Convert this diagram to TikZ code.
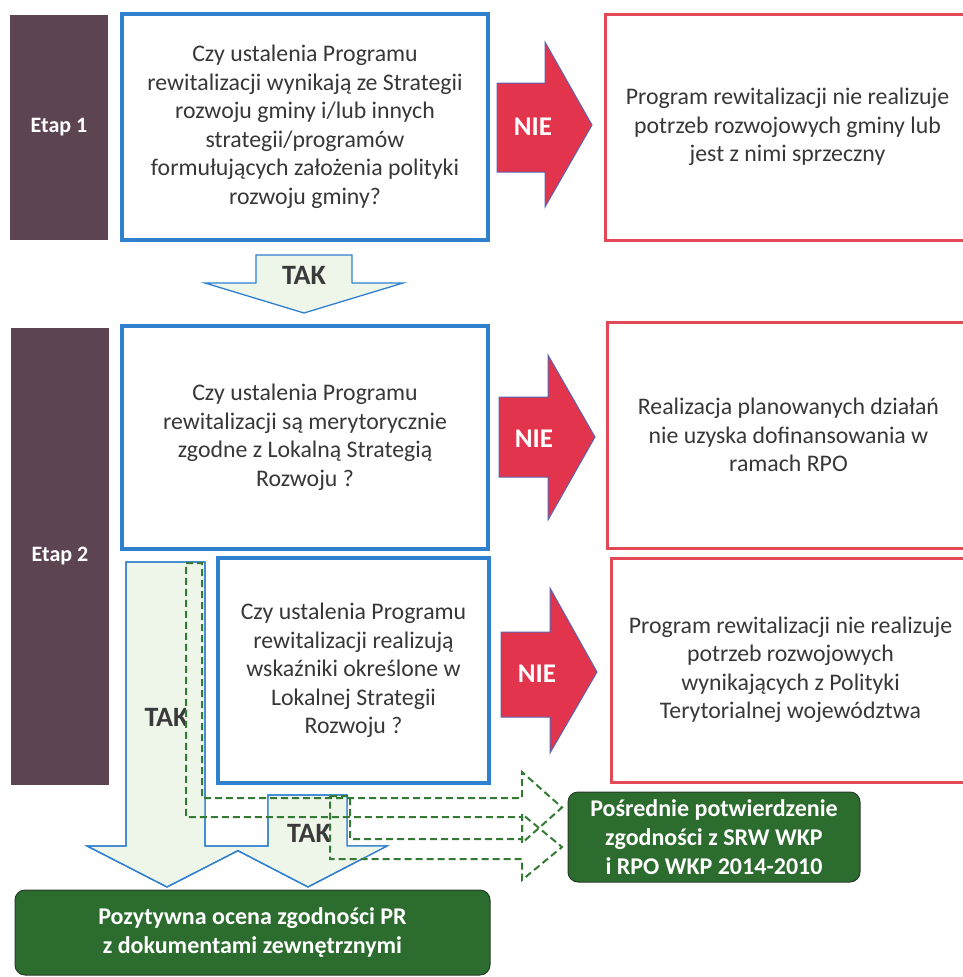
\documentclass[tikz,border=0pt]{standalone}
\usepackage{fontspec}
\setmainfont{Carlito}
\definecolor{qblue}{RGB}{48,128,208}
\definecolor{rred}{RGB}{226,72,86}
\definecolor{nieRed}{RGB}{226,52,76}
\definecolor{nieEdge}{RGB}{90,100,175}
\definecolor{etapC}{RGB}{92,68,82}
\definecolor{gC}{RGB}{44,108,46}
\definecolor{gEdge}{RGB}{40,60,40}
\definecolor{paleG}{RGB}{238,245,233}
\definecolor{dashG}{RGB}{52,122,52}
\definecolor{txtC}{RGB}{55,55,55}
\definecolor{takC}{RGB}{58,58,58}
\begin{document}
\begin{tikzpicture}[x=1pt,y=-1pt,
  etapbox/.style={fill=etapC, draw=none, text=white, inner sep=0pt,
    font=\fontsize{22}{26}\selectfont\bfseries},
  qbox/.style={draw=qblue, line width=3.5pt, fill=white, inner sep=0pt,
    align=center, text=txtC, font=\fontsize{23.8}{28.5}\selectfont},
  rbox/.style={draw=rred, line width=3pt, fill=white, inner sep=0pt,
    align=center, text=txtC, font=\fontsize{23.8}{28.5}\selectfont},
  gbox/.style={draw=gEdge, line width=1pt, fill=gC, rounded corners=10pt,
    inner sep=0pt, align=center, text=white,
    font=\fontsize{24}{28.8}\selectfont\bfseries},
  niearrow/.style={fill=nieRed, draw=nieEdge, line width=1pt, line join=miter},
  nietext/.style={text=white, font=\fontsize{27}{30}\selectfont\bfseries, inner sep=0pt},
  takarrow/.style={fill=paleG, draw=qblue, line width=1.3pt},
  takline/.style={draw=qblue, line width=1.3pt},
  taktext/.style={text=takC, font=\fontsize{28}{30}\selectfont\bfseries, inner sep=0pt},
  dashfill/.style={fill=paleG, draw=none},
  dashline/.style={draw=dashG, line width=2pt, dash pattern=on 7pt off 4pt}
]
\useasboundingbox (0,0) rectangle (963,977);
\begin{scope}
\clip (0,0) rectangle (963,977);

% stage boxes
\node[etapbox, minimum width=98pt, minimum height=225pt] (e1) at (59,127.5) {Etap 1};
\node[etapbox, minimum width=98pt, minimum height=457pt] (e2) at (60,556.5) {Etap 2};

% question boxes
\node[qbox, minimum width=366pt, minimum height=226pt] (q1) at (305,127) {%
Czy ustalenia Programu\\rewitalizacji wynikają ze Strategii\\rozwoju gminy i/lub innych\\strategii/programów\\formułujących założenia polityki\\rozwoju gminy?};
\node[qbox, minimum width=366pt, minimum height=223pt] (q2) at (305,437.5) {%
Czy ustalenia Programu\\rewitalizacji są merytorycznie\\zgodne z Lokalną Strategią\\Rozwoju ?};
\node[qbox, minimum width=271pt, minimum height=225pt] (q3) at (353.5,670.5) {%
Czy ustalenia Programu\\rewitalizacji realizują\\wskaźniki określone w\\Lokalnej Strategii\\Rozwoju ?};

% result boxes
\node[rbox, minimum width=365pt, minimum height=226pt] (r1) at (787.5,127) {%
Program rewitalizacji nie realizuje\\potrzeb rozwojowych gminy lub\\jest z nimi sprzeczny};
\node[rbox, minimum width=363pt, minimum height=226pt] (r2) at (788.5,435) {%
Realizacja planowanych działań\\nie uzyska dofinansowania w\\ramach RPO};
\node[rbox, minimum width=359pt, minimum height=224pt] (r3) at (790.5,670) {%
Program rewitalizacji nie realizuje\\potrzeb rozwojowych\\wynikających z Polityki\\Terytorialnej województwa};

% green result boxes
\node[gbox, minimum width=292pt, minimum height=90pt] (g1) at (714,837) {%
Pośrednie potwierdzenie\\zgodności z SRW WKP\\i RPO WKP 2014-2010};
\node[gbox, minimum width=475pt, minimum height=85pt] (g2) at (252.5,932.5) {%
Pozytywna ocena zgodności PR\\z dokumentami zewnętrznymi};

% NIE arrows
\draw[niearrow] (497,83) -- (545,83) -- (545,42) -- (592,125) -- (545,207) -- (545,172) -- (497,172) -- cycle;
\node[nietext] (n1) at (533,127) {NIE};
\draw[niearrow] (499,397) -- (548,397) -- (548,355) -- (595,437) -- (548,520) -- (548,477) -- (499,477) -- cycle;
\node[nietext] (n2) at (534,439) {NIE};
\draw[niearrow] (501,632) -- (550,632) -- (550,588) -- (597,672) -- (550,753) -- (550,717) -- (501,717) -- cycle;
\node[nietext] (n3) at (537,674) {NIE};

% TAK arrow between stages
\draw[takarrow] (256,255) -- (352,255) -- (352,283) -- (403,283) -- (304,313) -- (205,283) -- (256,283) -- cycle;
\node[taktext] (t0) at (304,275) {TAK};

% two TAK arrows in stage 2 (union outline)
\path[takarrow] (126,562) -- (205,562) -- (205,846) -- (268,846) -- (268,795) -- (347,795) -- (347,846) -- (387,846) -- (308,887) -- (237.9,850.7) -- (167,887) -- (87,846) -- (126,846) -- cycle;
\node[taktext] (t1) at (166.5,717) {TAK};
\node[taktext] (t2) at (309,833) {TAK};

% dashed arrows: fills, only where they lie over the pale TAK arrows
\begin{scope}
\clip (126,562) -- (205,562) -- (205,846) -- (268,846) -- (268,795) -- (347,795) -- (347,846) -- (387,846) -- (308,887) -- (237.9,850.7) -- (167,887) -- (87,846) -- (126,846) -- cycle;
\path[dashfill] (186,563) -- (202,563) -- (202,798) -- (522,798) -- (522,772) -- (562,807.5) -- (522,843) -- (522,817) -- (186,817) -- cycle;
\path[dashfill] (330,796) -- (350,796) -- (350,839) -- (522,839) -- (522,814) -- (562,847) -- (522,880) -- (522,859) -- (330,859) -- cycle;
\end{scope}

% re-stroke light arrow outline
\draw[takline] (126,562) -- (205,562) -- (205,846) -- (268,846) -- (268,795) -- (347,795) -- (347,846) -- (387,846) -- (308,887) -- (237.9,850.7) -- (167,887) -- (87,846) -- (126,846) -- cycle;

% dashed arrows: outlines
\draw[dashline] (186,563) -- (202,563) -- (202,798) -- (522,798) -- (522,772) -- (562,807.5) -- (522,843) -- (522,817) -- (186,817) -- cycle;
\draw[dashline] (330,796) -- (350,796) -- (350,839) -- (522,839) -- (522,814) -- (562,847) -- (522,880) -- (522,859) -- (330,859) -- cycle;
\end{scope}
\end{tikzpicture}
\end{document}
